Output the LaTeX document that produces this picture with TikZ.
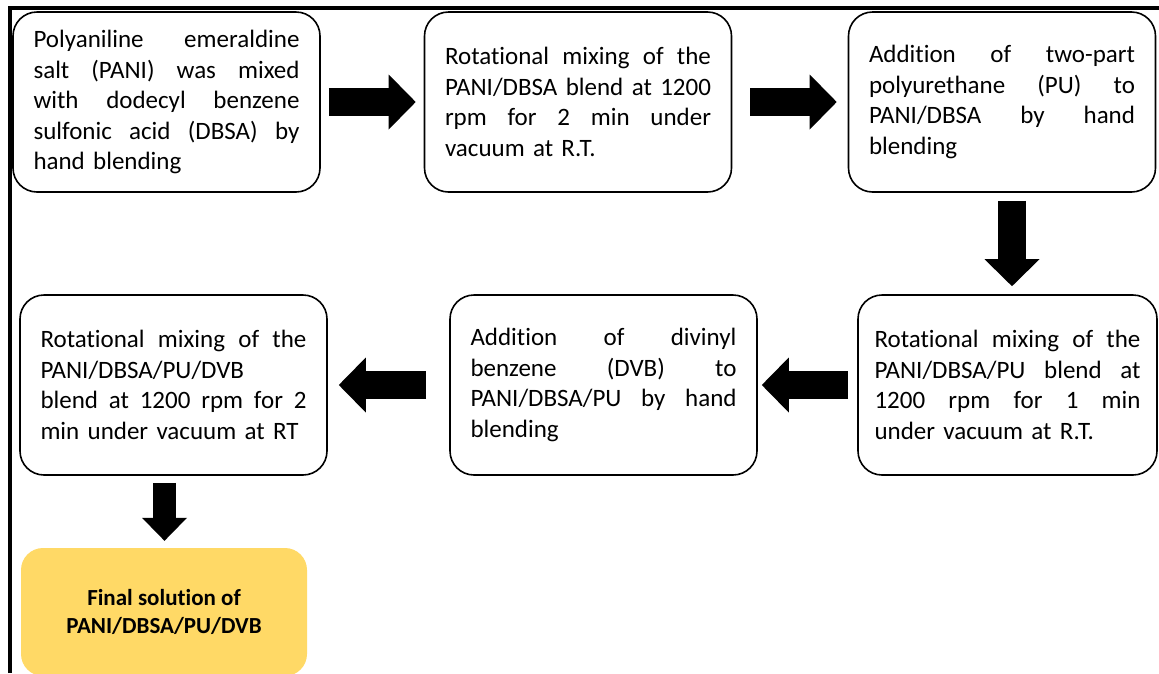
\documentclass[tikz,border=0pt]{standalone}
\usepackage{fontspec}
\setmainfont{Carlito}[Ligatures={NoCommon,NoRequired,NoContextual},Contextuals=NoAlternate]
\usetikzlibrary{arrows.meta,calc}
\definecolor{finalfill}{HTML}{FFD966}
\setlength\parindent{0pt}
\newcommand\jl[1]{\leavevmode\hbox to 266pt{\spaceskip=\fontdimen2\font plus 1fil\relax #1}}
\tikzset{
  stepbox/.style={draw, line width=1.6pt, rounded corners=24pt,
    minimum width=307pt, minimum height=180pt, text width=266pt,
    align=left, inner sep=0pt, font=\fontsize{25}{30.5}\selectfont},
  finalbox/.style={fill=finalfill, rounded corners=22pt,
    minimum width=286pt, minimum height=128pt, inner sep=0pt,
    align=center, font=\fontsize{23}{28}\selectfont\bfseries},
  bigarrow/.style={line width=28pt, -{Triangle[length=27pt,width=55pt,line width=0pt]}},
  smallarrow/.style={line width=23pt, -{Triangle[length=23pt,width=45pt,line width=0pt]}},
  frameline/.style={line width=3.5pt}
}
\begin{document}
\begin{tikzpicture}[x=1pt,y=-1pt]
\useasboundingbox (0,0) rectangle (1159,673);
\clip (0,0) rectangle (1159,673);
\draw[frameline] (10,673) -- (10,8) -- (1159,8);

\node[stepbox] (b1) at (166.5,102) {\jl{Polyaniline emeraldine}\\\jl{salt (PANI) was mixed}\\\jl{with dodecyl benzene}\\\jl{sulfonic acid (DBSA) by}\\hand blending};
\node[stepbox] (b2) at (578,102) {\jl{Rotational mixing of the}\\\jl{PANI/DBSA blend at 1200}\\\jl{rpm for 2 min under}\\vacuum at R.T.};
\node[stepbox] (b3) at (1002,102) {\jl{Addition of two-part}\\\jl{polyurethane (PU) to}\\\jl{PANI/DBSA by hand}\\blending};
\node[stepbox, minimum width=299pt] (b4) at (1007.5,385) {\jl{Rotational mixing of the}\\\jl{PANI/DBSA/PU blend at}\\\jl{1200 rpm for 1 min}\\under vacuum at R.T.};
\node[stepbox] (b5) at (603.5,385) {\jl{Addition of divinyl}\\\jl{benzene (DVB) to}\\\jl{PANI/DBSA/PU by hand}\\blending};
\node[stepbox] (b6) at (173.5,385) {\jl{Rotational mixing of the}\\PANI/DBSA/PU/DVB\\\jl{blend at 1200 rpm for 2}\\min under vacuum at RT};
\node[finalbox] (b7) at (164,612) {Final solution of\\PANI/DBSA/PU/DVB};

\draw[bigarrow] ([xshift=8pt]b1.east) -- ([xshift=-8pt]b2.west);
\draw[bigarrow] ([xshift=18pt]b2.east) -- ([xshift=-11pt]b3.west);
\draw[bigarrow] ($(b3.south)+(10,8)$) -- ($(b4.north)+(4.5,-8)$);
\draw[bigarrow] ([xshift=-9pt]b4.west) -- ([xshift=4pt]b5.east);
\draw[bigarrow] ([xshift=-23pt]b5.west) -- ([xshift=11pt]b6.east);
\draw[smallarrow] ($(b6.south)+(-9,7)$) -- ($(b7.north)+(0.5,-7)$);
\end{tikzpicture}
\end{document}
